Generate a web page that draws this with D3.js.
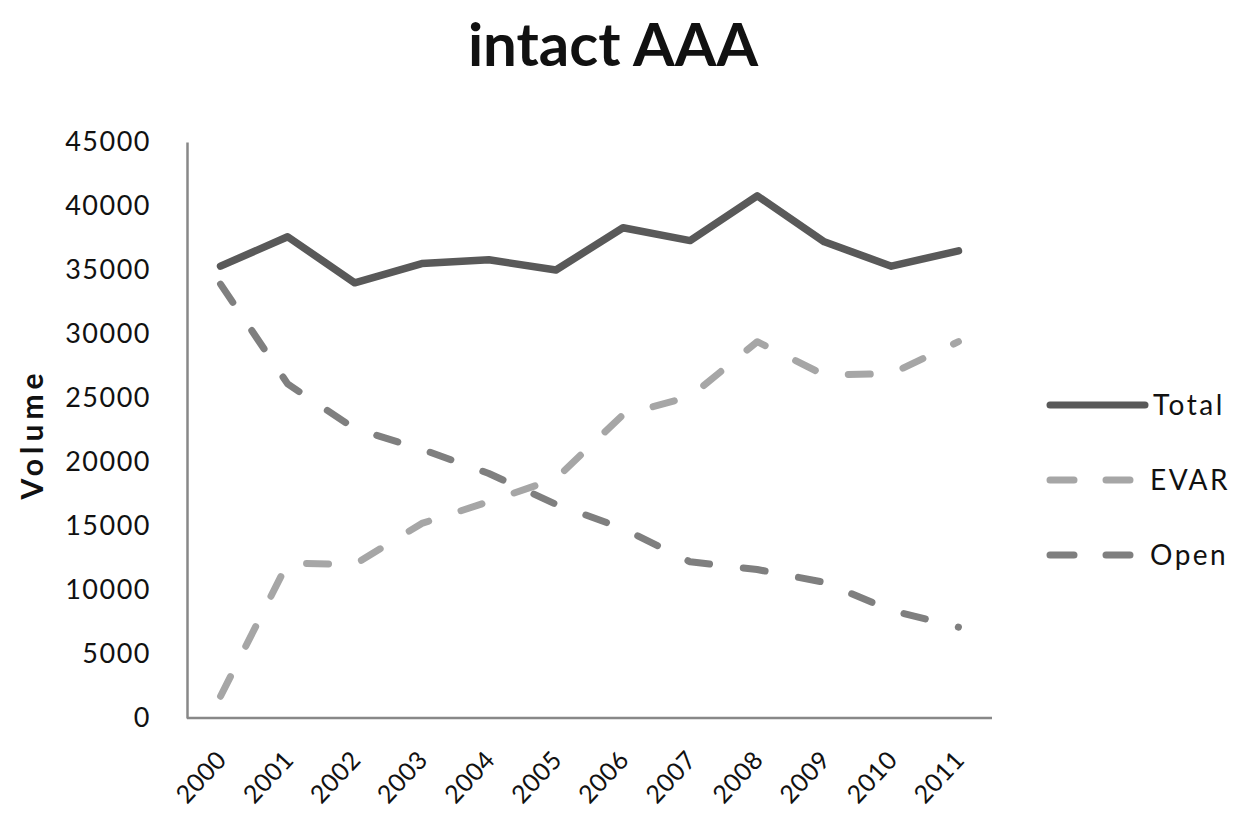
<!DOCTYPE html>
<html>
<head>
<meta charset="utf-8">
<script src="https://cdn.jsdelivr.net/npm/d3@7/dist/d3.min.js"></script>
<style>
  html, body { margin: 0; padding: 0; background: #fff; }
  svg { display: block; }
  text { font-family: Lato, "Open Sans", sans-serif; fill: #111; }
</style>
</head>
<body>
<svg id="chart" width="1235" height="835"></svg>
<script>
// Annual volumes of intact AAA repair, 2000-2011
const years = ["2000","2001","2002","2003","2004","2005","2006","2007","2008","2009","2010","2011"];
const totalVolume = [35300, 37600, 34000, 35500, 35800, 35000, 38300, 37300, 40800, 37200, 35300, 36500];
const evarVolume  = [1700, 12100, 12000, 15200, 16900, 18700, 23700, 25100, 29400, 26800, 26900, 29400];
const openVolume  = [33900, 26100, 22600, 21000, 19100, 16700, 14800, 12200, 11600, 10600, 8400, 7100];
const yTicks = [0, 5000, 10000, 15000, 20000, 25000, 30000, 35000, 40000, 45000];

const series = [
  { name: "Total", values: totalVolume, color: "#595959", dash: null },
  { name: "EVAR",  values: evarVolume,  color: "#a6a6a6", dash: "22 34" },
  { name: "Open",  values: openVolume,  color: "#7f7f7f", dash: "22 34" }
];

const svg = d3.select("#chart");
const plotLeft = 187, plotRight = 992, plotTop = 142, plotBottom = 718;

const x = d3.scalePoint().domain(years).range([plotLeft, plotRight]).padding(0.5);
const y = d3.scaleLinear().domain([0, 45000]).range([plotBottom, plotTop]);

// Title
svg.append("text")
  .attr("x", 613).attr("y", 66)
  .attr("text-anchor", "middle")
  .style("font-size", "60px").style("font-weight", "bold")
  .text("intact AAA");

// Y axis
const yAxis = svg.append("g")
  .attr("transform", `translate(${plotLeft},0)`)
  .call(d3.axisLeft(y).tickValues(yTicks).tickSize(0).tickPadding(36).tickFormat(d3.format("d")));
yAxis.select(".domain").attr("stroke", "#888").attr("stroke-width", 2.5);
yAxis.selectAll("text")
  .style("font-family", "Lato, sans-serif").style("font-size", "27px")
  .style("letter-spacing", "1.5px").attr("fill", "#111");

// X axis
const xAxis = svg.append("g")
  .attr("transform", `translate(0,${plotBottom})`)
  .call(d3.axisBottom(x).tickSize(0).tickSizeOuter(0));
xAxis.select(".domain").attr("stroke", "#888").attr("stroke-width", 2.5)
  .attr("d", `M${plotLeft},0H${plotRight}`);
xAxis.selectAll("text")
  .style("font-family", "Lato, sans-serif").style("font-size", "25px")
  .style("letter-spacing", "0.5px").attr("fill", "#111")
  .attr("text-anchor", "end")
  .attr("dy", null).attr("y", 0)
  .attr("transform", "translate(7,43) rotate(-47)");

// Y axis title
svg.append("text")
  .attr("transform", "translate(43,434) rotate(-90)")
  .attr("text-anchor", "middle")
  .style("font-size", "30px").style("font-weight", "bold")
  .style("letter-spacing", "5px")
  .text("Volume");

// Lines
const line = d3.line().x((d, i) => x(years[i])).y(d => y(d));
series.forEach(s => {
  svg.append("path")
    .datum(s.values)
    .attr("d", line)
    .attr("fill", "none")
    .attr("stroke", s.color)
    .attr("stroke-width", s.dash ? 7 : 7.5)
    .attr("stroke-linejoin", "round")
    .attr("stroke-linecap", "round")
    .attr("stroke-dasharray", s.dash);
});

// Legend
const legend = svg.append("g");
series.forEach((s, i) => {
  const ly = 405 + i * 75;
  legend.append("line")
    .attr("x1", 1050).attr("x2", s.dash ? 1131 : 1145)
    .attr("y1", ly).attr("y2", ly)
    .attr("stroke", s.color).attr("stroke-width", 7)
    .attr("stroke-linecap", "round")
    .attr("stroke-dasharray", s.dash ? "24 32" : null);
  legend.append("text")
    .attr("x", s.dash ? 1150 : 1153).attr("y", ly).attr("dy", "0.36em")
    .style("font-size", "28px").style("letter-spacing", "2.5px")
    .text(s.name);
});
</script>
</body>
</html>
